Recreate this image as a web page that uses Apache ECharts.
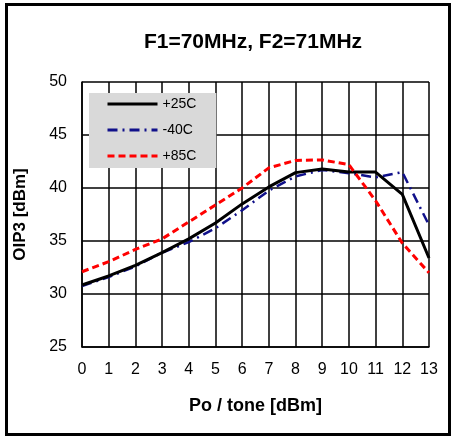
<!DOCTYPE html>
<html>
<head>
<meta charset="utf-8">
<script src="https://cdn.jsdelivr.net/npm/echarts@6/dist/echarts.min.js"></script>
<style>
    html, body { margin: 0; padding: 0; background: #fff; }
    #chart { width: 452px; height: 436px; }
</style>
</head>
<body>
<div id="chart"></div>
<script>
// Po / tone [dBm]
const xValues = [0, 1, 2, 3, 4, 5, 6, 7, 8, 9, 10, 11, 12, 13];
// OIP3 [dBm]
const temp25 = [30.85, 31.7, 32.7, 33.9, 35.2, 36.7, 38.5, 40.1, 41.45, 41.8, 41.5, 41.5, 39.4, 33.4];
const tempMinus40 = [30.75, 31.6, 32.6, 33.9, 34.9, 36.2, 37.9, 39.75, 41.1, 41.7, 41.4, 41.0, 41.5, 36.5];
const temp85 = [32.1, 33.05, 34.2, 35.2, 36.8, 38.4, 40.0, 41.9, 42.6, 42.65, 42.2, 38.8, 34.8, 32.0];
const seriesNames = ["+25C", "-40C", "+85C"];

const pairs = (ys) => ys.map((y, i) => [xValues[i], y]);

const chart = echarts.init(document.getElementById("chart"));
chart.setOption({
    animation: false,
    textStyle: { fontFamily: "Liberation Sans" },
    title: {
        text: "F1=70MHz, F2=71MHz",
        left: 248,
        textAlign: "center",
        top: 27,
        textStyle: { fontSize: 21, fontWeight: "bold", color: "#000", fontFamily: "Liberation Sans" }
    },
    graphic: [
        {
            type: "rect",
            shape: { x: 6.5, y: 4.5, width: 443, height: 430 },
            style: { fill: null, stroke: "#000", lineWidth: 3 },
            z: -1
        }
    ],
    legend: {
        data: seriesNames,
        orient: "vertical",
        left: 89,
        top: 93,
        padding: [4, 20, 5, 17],
        itemGap: 12,
        itemWidth: 50,
        itemHeight: 14,
        backgroundColor: "#d9d9d9",
        // hide the little circle that line series put in their legend icon
        itemStyle: { color: "rgba(0,0,0,0)", borderColor: "rgba(0,0,0,0)", borderWidth: 0 },
        lineStyle: { width: 3 },
        textStyle: { fontSize: 14, color: "#000" }
    },
    grid: { left: 82, right: 23, top: 82, bottom: 89 },
    xAxis: {
        type: "value",
        min: 0,
        max: 13,
        interval: 1,
        name: "Po / tone [dBm]",
        nameLocation: "middle",
        nameGap: 50,
        nameTextStyle: { fontSize: 18, fontWeight: "bold", color: "#000" },
        axisLine: { show: true, lineStyle: { color: "#000", width: 1.5 } },
        axisTick: { show: false },
        axisLabel: { fontSize: 16, color: "#000", margin: 15 },
        splitLine: { show: true, lineStyle: { color: "#000", width: 1.5 } }
    },
    yAxis: {
        type: "value",
        min: 25,
        max: 50,
        interval: 5,
        name: "OIP3 [dBm]",
        nameLocation: "middle",
        nameGap: 53,
        nameTextStyle: { fontSize: 17, fontWeight: "bold", color: "#000" },
        axisLine: { show: true, lineStyle: { color: "#000", width: 1.5 } },
        axisTick: { show: false },
        axisLabel: { fontSize: 16, color: "#000", margin: 15 },
        splitLine: { show: true, lineStyle: { color: "#000", width: 1.5 } }
    },
    series: [
        {
            name: "+25C",
            type: "line",
            symbol: "none",
            data: pairs(temp25),
            itemStyle: { color: "#000" },
            lineStyle: { color: "#000", width: 3 },
            z: 3
        },
        {
            name: "-40C",
            type: "line",
            symbol: "none",
            data: pairs(tempMinus40),
            itemStyle: { color: "#10108a" },
            lineStyle: { color: "#10108a", width: 2.5, type: [10, 5, 2, 5] },
            z: 2
        },
        {
            name: "+85C",
            type: "line",
            symbol: "none",
            data: pairs(temp85),
            itemStyle: { color: "#ff0000" },
            lineStyle: { color: "#ff0000", width: 3, type: [7, 4] },
            z: 4
        }
    ]
});
</script>
</body>
</html>
